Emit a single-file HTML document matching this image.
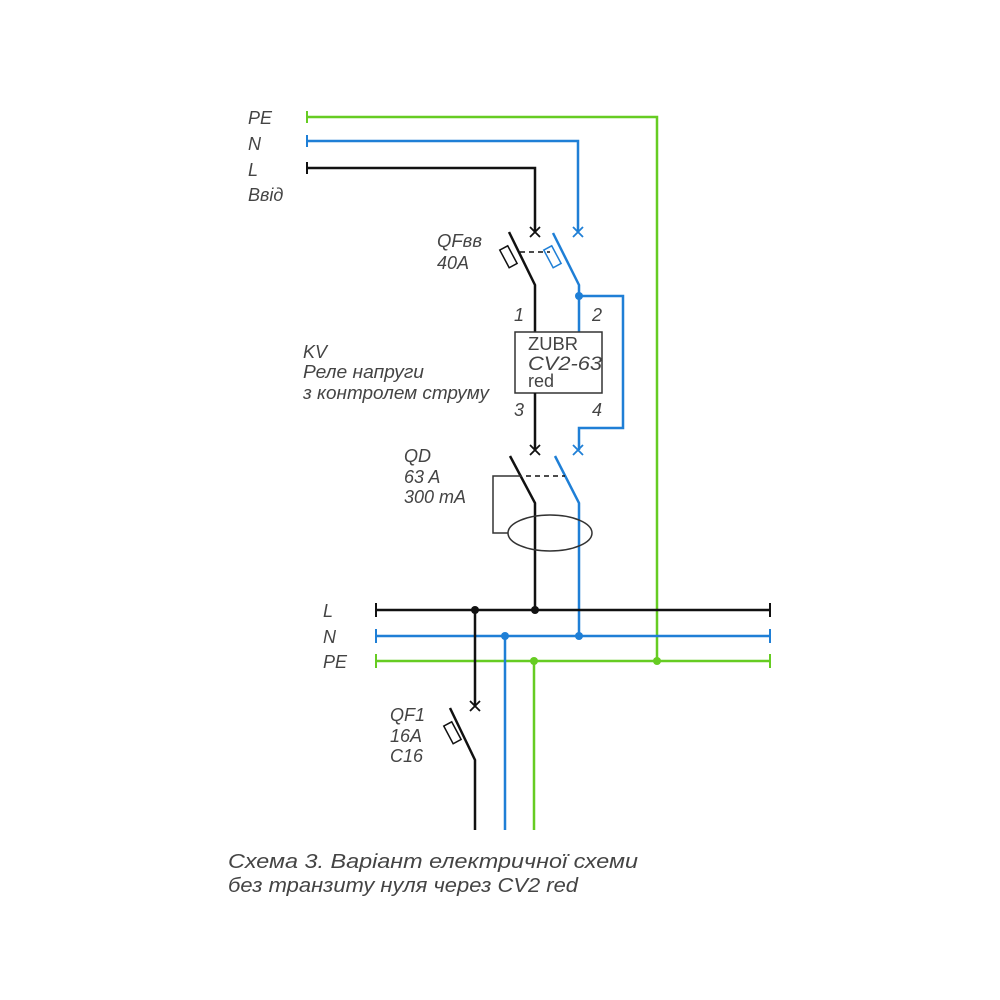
<!DOCTYPE html>
<html><head><meta charset="utf-8"><style>body{margin:0;background:#fff}svg{display:block}text{font-family:"Liberation Sans",sans-serif;font-style:italic;fill:#444;font-size:18px}</style></head>
<body><svg width="1000" height="1000" viewBox="0 0 1000 1000">
<g fill="none" stroke-width="2.5">
<path d="M307 117H657V661" stroke="#66cc22"/>
<path d="M307 111v12" stroke="#66cc22" stroke-width="2"/>
<path d="M307 141H578V232" stroke="#1f7fd6"/>
<path d="M307 135v12" stroke="#1f7fd6" stroke-width="2"/>
<path d="M307 168H535V232" stroke="#111"/>
<path d="M307 162v12" stroke="#111" stroke-width="2"/>
<path d="M530 227l10 10M540 227l-10 10" stroke="#111" stroke-width="1.8"/>
<path d="M509 232L535 285V332" stroke="#111"/>
<path d="M573 227l10 10M583 227l-10 10" stroke="#1f7fd6" stroke-width="1.8"/>
<path d="M553 233L579 285V332" stroke="#1f7fd6"/>
<path d="M579 296H623V428H579V450" stroke="#1f7fd6"/>
<rect x="504" y="247" width="9" height="20" transform="rotate(-28 508 257)" stroke="#111" stroke-width="1.5"/>
<rect x="548" y="247" width="9" height="20" transform="rotate(-28 552 257)" stroke="#1f7fd6" stroke-width="1.5"/>
<path d="M520 252H550" stroke="#111" stroke-width="1.5" stroke-dasharray="5 4"/>
<rect x="515" y="332" width="87" height="61" stroke="#333" stroke-width="1.5" fill="#fff"/>
<path d="M535 393V450" stroke="#111"/>
<path d="M530 445l10 10M540 445l-10 10" stroke="#111" stroke-width="1.8"/>
<path d="M573 445l10 10M583 445l-10 10" stroke="#1f7fd6" stroke-width="1.8"/>
<path d="M510 456L535 503V610" stroke="#111"/>
<path d="M555 456L579 503V636" stroke="#1f7fd6"/>
<path d="M526 476H565" stroke="#111" stroke-width="1.5" stroke-dasharray="5 4"/>
<path d="M522 476H493V533H508" stroke="#333" stroke-width="1.5"/>
<ellipse cx="550" cy="533" rx="42" ry="18" stroke="#333" stroke-width="1.5"/>
<path d="M376 610H770" stroke="#111"/>
<path d="M376 636H770" stroke="#1f7fd6"/>
<path d="M376 661H770" stroke="#66cc22"/>
<path d="M376 603v14M770 603v14" stroke="#111" stroke-width="2"/>
<path d="M376 629v14M770 629v14" stroke="#1f7fd6" stroke-width="2"/>
<path d="M376 654v14M770 654v14" stroke="#66cc22" stroke-width="2"/>
<path d="M475 610V706" stroke="#111"/>
<path d="M470 701l10 10M480 701l-10 10" stroke="#111" stroke-width="1.8"/>
<path d="M450 708L475 760V830" stroke="#111"/>
<rect x="448" y="723" width="9" height="20" transform="rotate(-28 452 733)" stroke="#111" stroke-width="1.5"/>
<path d="M505 636V830" stroke="#1f7fd6"/>
<path d="M534 661V830" stroke="#66cc22"/>
</g>
<g>
<circle cx="579" cy="296" r="4" fill="#1f7fd6"/>
<circle cx="475" cy="610" r="4" fill="#111"/>
<circle cx="535" cy="610" r="4" fill="#111"/>
<circle cx="505" cy="636" r="4" fill="#1f7fd6"/>
<circle cx="579" cy="636" r="4" fill="#1f7fd6"/>
<circle cx="534" cy="661" r="4" fill="#66cc22"/>
<circle cx="657" cy="661" r="4" fill="#66cc22"/>
</g>
<text x="248" y="124">PE</text>
<text x="248" y="150">N</text>
<text x="248" y="176">L</text>
<text x="248" y="201">Ввід</text>
<text x="437" y="247" textLength="45" lengthAdjust="spacingAndGlyphs">QFвв</text>
<text x="437" y="269">40A</text>
<text x="514" y="321">1</text>
<text x="592" y="321">2</text>
<text x="514" y="416">3</text>
<text x="592" y="416">4</text>
<text x="528" y="350" style="font-style:normal" textLength="50" lengthAdjust="spacingAndGlyphs">ZUBR</text>
<text x="528" y="370" style="font-size:19px" textLength="74" lengthAdjust="spacingAndGlyphs">CV2-63</text>
<text x="528" y="387" style="font-style:normal">red</text>
<text x="303" y="358">KV</text>
<text x="303" y="378" textLength="121" lengthAdjust="spacingAndGlyphs">Реле напруги</text>
<text x="303" y="399" textLength="186" lengthAdjust="spacingAndGlyphs">з контролем струму</text>
<text x="404" y="462">QD</text>
<text x="404" y="483">63 A</text>
<text x="404" y="503">300 mA</text>
<text x="323" y="617">L</text>
<text x="323" y="643">N</text>
<text x="323" y="668">PE</text>
<text x="390" y="721">QF1</text>
<text x="390" y="742">16A</text>
<text x="390" y="762">C16</text>
<text x="228" y="868" style="font-size:20px" textLength="410" lengthAdjust="spacingAndGlyphs">Схема 3. Варіант електричної схеми</text>
<text x="228" y="892" style="font-size:20px" textLength="350" lengthAdjust="spacingAndGlyphs">без транзиту нуля  через CV2 red</text>
</svg></body></html>
